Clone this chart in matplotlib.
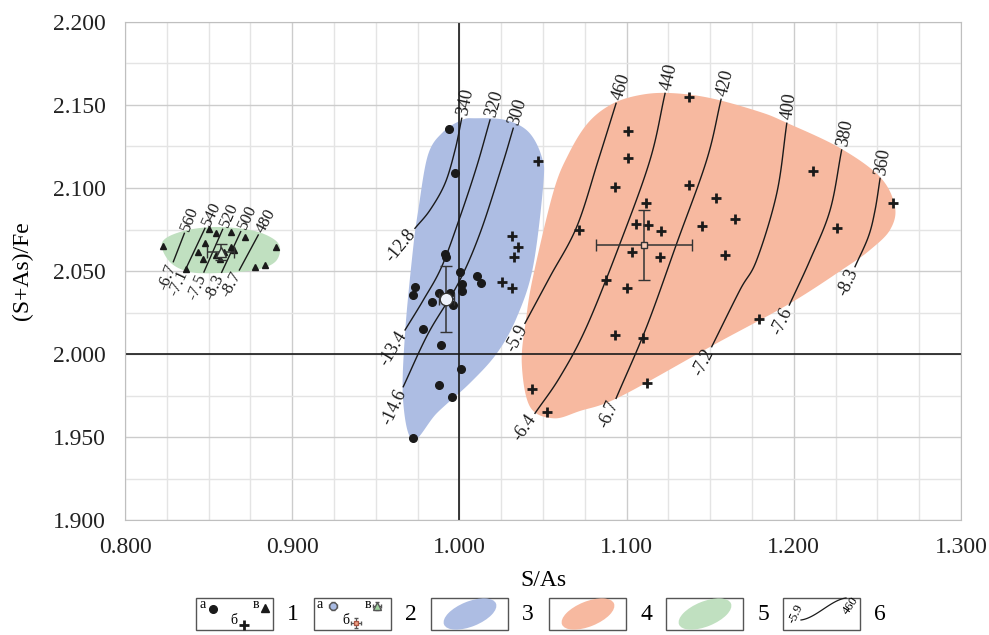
import matplotlib.pyplot as plt
import numpy as np
from matplotlib.patches import Rectangle, Ellipse
from matplotlib.ticker import MultipleLocator, FormatStrFormatter

plt.rcParams["font.family"] = ["Liberation Serif", "DejaVu Serif"]

# Контуры полей составов
blue_x = [1.0093, 1.0273, 1.0412, 1.0492, 1.0502, 1.0440, 1.0344, 1.0225,
          1.0063, 0.9866, 0.9722, 0.9663, 0.9675, 0.9722, 0.9754, 0.9812,
          0.9902, 1.0016]
blue_y = [2.1420, 2.1410, 2.1339, 2.1189, 2.1028, 2.0524, 2.0223, 2.0006,
          1.9825, 1.9645, 1.9482, 1.9723, 2.0127, 2.0627, 2.0867, 2.1199,
          2.1337, 2.1410]

orange_x = [1.1080, 1.1260, 1.1499, 1.1798, 1.1959, 1.2276, 1.2516, 1.2605,
            1.2575, 1.2456, 1.2316, 1.1977, 1.1519, 1.0961, 1.0721, 1.0562,
            1.0422, 1.0373, 1.0398, 1.0440, 1.0560, 1.0650, 1.0769, 1.0913]
orange_y = [2.1560, 2.1572, 2.1542, 2.1458, 2.1392, 2.1241, 2.1066, 2.0887,
            2.0747, 2.0627, 2.0526, 2.0305, 2.0054, 1.9743, 1.9657, 1.9613,
            1.9683, 1.9944, 2.0205, 2.0464, 2.0970, 2.1199, 2.1392, 2.1506]

green_x = [0.8221, 0.8329, 0.8526, 0.8748, 0.8879, 0.8927, 0.8897, 0.8778,
           0.8568, 0.8389, 0.8269]
green_y = [2.0669, 2.0735, 2.0765, 2.0747, 2.0699, 2.0639, 2.0554, 2.0506,
           2.0488, 2.0494, 2.0554]

# а - кружки
circ_x = [0.9940, 0.9974, 0.9916, 0.9920, 1.0004, 1.0014, 1.0018, 1.0103,
          1.0127, 0.9734, 0.9724, 0.9878, 0.9944, 0.9838, 0.9964, 0.9780,
          0.9890, 1.0008, 0.9880, 0.9958, 0.9721]
circ_y = [2.1354, 2.1092, 2.0602, 2.0586, 2.0496, 2.0422, 2.0381, 2.0470,
          2.0426, 2.0402, 2.0354, 2.0369, 2.0369, 2.0311, 2.0295, 2.0149,
          2.0054, 1.9908, 1.9813, 1.9739, 1.9492]

# б - кресты
plus_x = [1.0468, 1.0316, 1.0348, 1.0328, 1.0253, 1.0316,
          1.1375, 1.1010, 1.1010, 1.0931, 1.1375, 1.1534, 1.1650, 1.1452,
          1.1114, 1.1054, 1.1126, 1.1204, 1.0715, 1.1032, 1.1200, 1.1590,
          1.0875, 1.1000, 1.0931, 1.1100, 1.1120, 1.0432, 1.0526, 1.1793,
          1.2113, 1.2256, 1.2591]
plus_y = [2.1163, 2.0711, 2.0646, 2.0584, 2.0436, 2.0399,
          2.1546, 2.1345, 2.1183, 2.1004, 2.1018, 2.0942, 2.0813, 2.0773,
          2.0908, 2.0783, 2.0779, 2.0741, 2.0747, 2.0613, 2.0586, 2.0596,
          2.0446, 2.0396, 2.0114, 2.0094, 1.9827, 1.9787, 1.9653, 2.0209,
          2.1104, 2.0761, 2.0908]

# в - треугольники
tri_x = [0.8229, 0.8504, 0.8542, 0.8634, 0.8718, 0.8478, 0.8632, 0.8653,
         0.8438, 0.8542, 0.8594, 0.8465, 0.8568, 0.8365, 0.8778, 0.8837, 0.8903]
tri_y = [2.0651, 2.0751, 2.0731, 2.0733, 2.0703, 2.0667, 2.0646, 2.0627,
         2.0616, 2.0596, 2.0616, 2.0571, 2.0571, 2.0510, 2.0522, 2.0536, 2.0646]

# средние значения и отклонения
mean_circ = (0.9920, 2.0331, 0.0045, 0.0197)
mean_plus = (1.1104, 2.0657, 0.0288, 0.0209)
mean_tri = (0.8572, 2.0616, 0.0080, 0.0047)

# изолинии: температура (вверху) и значение (внизу)
iso_x = [
    [1.0014, 0.9974, 0.9914, 0.9824, 0.9734],
    [1.0183, 1.0103, 1.0004, 0.9894, 0.9784, 0.9675],
    [1.0322, 1.0253, 1.0123, 0.9993, 0.9814, 0.9664],
    [1.0937, 1.0831, 1.0702, 1.0542, 1.0392],
    [1.1230, 1.1140, 1.0961, 1.0761, 1.0602, 1.0452],
    [1.1565, 1.1479, 1.1300, 1.1120, 1.0937],
    [1.1958, 1.1898, 1.1778, 1.1678, 1.1509],
    [1.2286, 1.2217, 1.2097, 1.1973],
    [1.2516, 1.2486, 1.2446, 1.2366],
    [0.8355, 0.8289],
    [0.8478, 0.8365],
    [0.8584, 0.8472],
    [0.8692, 0.8578],
    [0.8797, 0.8684],
]
iso_y = [
    [2.1420, 2.1229, 2.1028, 2.0867, 2.0757],
    [2.1410, 2.1128, 2.0827, 2.0526, 2.0325, 2.0145],
    [2.1360, 2.1128, 2.0727, 2.0426, 2.0125, 1.9803],
    [2.1510, 2.1169, 2.0767, 2.0466, 2.0185],
    [2.1570, 2.1169, 2.0667, 2.0165, 1.9863, 1.9643],
    [2.1534, 2.1169, 2.0667, 2.0165, 1.9733],
    [2.1390, 2.0968, 2.0566, 2.0386, 2.0044],
    [2.1229, 2.0867, 2.0566, 2.0295],
    [2.1058, 2.0867, 2.0707, 2.0526],
    [2.0727, 2.0556],
    [2.0757, 2.0516],
    [2.0751, 2.0494],
    [2.0737, 2.0492],
    [2.0717, 2.0506],
]
iso_top = ["340", "320", "300", "460", "440", "420", "400", "380", "360",
           "560", "540", "520", "500", "480"]
iso_bottom = ["-12.8", "-13.4", "-14.6", "-5.9", "-6.4", "-6.7", "-7.2", "-7.6", "-8.3",
              "-6.7", "-7.1", "-7.5", "-8.3", "-8.7"]

c_blue = "#adbde3"
c_orange = "#f7b9a0"
c_green = "#c0e0c0"


def smooth(xs, ys, closed=False, n=24):
    # сплайн Катмулла-Рома через узлы
    p = np.column_stack([xs, ys]).astype(float)
    if len(p) < 3:
        return p[:, 0], p[:, 1]
    if closed:
        p = np.vstack([p[-1], p, p[0], p[1]])
    else:
        p = np.vstack([2 * p[0] - p[1], p, 2 * p[-1] - p[-2]])
    t = np.linspace(0, 1, n, endpoint=False)[:, None]
    out = []
    for i in range(1, len(p) - 2):
        p0, p1, p2, p3 = p[i - 1], p[i], p[i + 1], p[i + 2]
        out.append(0.5 * (2 * p1 + (-p0 + p2) * t
                          + (2 * p0 - 5 * p1 + 4 * p2 - p3) * t ** 2
                          + (-p0 + 3 * p1 - 3 * p2 + p3) * t ** 3))
    if not closed:
        out.append(p[-2][None])
    out = np.vstack(out)
    return out[:, 0], out[:, 1]


fig = plt.figure(figsize=(9.89, 6.35), dpi=100)
ax = fig.add_axes([0.1264, 0.181, 0.8453, 0.7844])
ax.set_xlim(0.8, 1.3)
ax.set_ylim(1.9, 2.2)

ax.xaxis.set_major_locator(MultipleLocator(0.1))
ax.yaxis.set_major_locator(MultipleLocator(0.05))
ax.xaxis.set_minor_locator(MultipleLocator(0.025))
ax.yaxis.set_minor_locator(MultipleLocator(0.025))
ax.xaxis.set_major_formatter(FormatStrFormatter("%.3f"))
ax.yaxis.set_major_formatter(FormatStrFormatter("%.3f"))
ax.set_axisbelow(True)
ax.grid(which="major", color="#cccccc", lw=1)
ax.grid(which="minor", color="#e4e4e4", lw=1)
ax.tick_params(which="both", length=0, labelsize=17, colors="#222222")
ax.tick_params(axis="y", pad=14)
ax.tick_params(axis="x", pad=12)
for s in ax.spines.values():
    s.set_color("#bfbfbf")

ax.set_xlabel("S/As", fontsize=17, labelpad=9)
ax.set_ylabel("(S+As)/Fe", fontsize=17, labelpad=14)

# поля
for xs, ys, c in [(blue_x, blue_y, c_blue), (orange_x, orange_y, c_orange),
                  (green_x, green_y, c_green)]:
    sx, sy = smooth(xs, ys, closed=True)
    ax.fill(sx, sy, color=c, lw=0, zorder=1)

ax.axvline(1.0, color="#1a1a1a", lw=1.2, zorder=2)
ax.axhline(2.0, color="#1a1a1a", lw=1.2, zorder=2)

# изолинии с подписями
for xs, ys, top, bot in zip(iso_x, iso_y, iso_top, iso_bottom):
    sx, sy = smooth(xs, ys)
    ax.plot(sx, sy, color="#1a1a1a", lw=1, zorder=2.5)
    pts = ax.transData.transform(np.column_stack([xs, ys]))
    fs = 12 if float(top) >= 480 else 13
    for end, nxt, txt, ha, sign in [(0, 1, top, "left", 1), (-1, -2, bot, "right", -1)]:
        d = pts[end] - pts[nxt] if sign > 0 else pts[nxt] - pts[end]
        d = d / np.hypot(*d)
        ang = np.degrees(np.arctan2(d[1], d[0]))
        ax.annotate(txt, (xs[end], ys[end]), xytext=(sign * 2.5 * d[0], sign * 2.5 * d[1]),
                    textcoords="offset points", rotation=ang, rotation_mode="anchor",
                    ha=ha, va="center", fontsize=fs, color="#1a1a1a", zorder=3)

ax.plot(circ_x, circ_y, "o", color="#1a1a1a", ms=5.5, zorder=4)
ax.plot(plus_x, plus_y, "+", color="#1a1a1a", ms=6.5, mew=2, zorder=4)
ax.plot(tri_x, tri_y, "^", color="#1a1a1a", ms=5, zorder=4)

for (mx, my, ex, ey), mk, fc, ms in [(mean_circ, "o", "#eef2fb", 9),
                                     (mean_plus, "s", "#f9cdb9", 5),
                                     (mean_tri, "^", "#d6ecd6", 7)]:
    ax.errorbar(mx, my, xerr=ex, yerr=ey, fmt=mk, ms=ms, mfc=fc, mec="#333333",
                mew=1, ecolor="#333333", elinewidth=1.1, capsize=4, capthick=1.1,
                zorder=5)

# условные обозначения
lg = fig.add_axes([0, 0, 1, 1], zorder=-1)
lg.set_xlim(0, 989)
lg.set_ylim(635, 0)
lg.axis("off")
box_left = [196, 314, 431, 549, 666, 783]
for i, x0 in enumerate(box_left):
    lg.add_patch(Rectangle((x0, 598), 77, 32, fill=False, ec="#555555", lw=1))
    lg.text(x0 + 97, 615, str(i + 1), fontsize=17, ha="center", va="center")

lg.text(203, 605, "а", fontsize=10, ha="center", va="center")
lg.plot(213, 609, "o", color="#1a1a1a", ms=5.5)
lg.text(256, 605, "в", fontsize=10, ha="center", va="center")
lg.plot(265, 608, "^", color="#1a1a1a", ms=6)
lg.text(234, 621, "б", fontsize=10, ha="center", va="center")
lg.plot(244, 625, "+", color="#1a1a1a", ms=6.5, mew=2)

lg.text(320, 604, "а", fontsize=10, ha="center", va="center")
lg.errorbar(333, 606, xerr=4, yerr=4, fmt="o", ms=5.5, mfc="#a9bbe3", mec="#555555",
            ecolor="#555555", elinewidth=0.8, capsize=1.5)
lg.text(368, 604, "в", fontsize=10, ha="center", va="center")
lg.errorbar(377, 606, xerr=4, yerr=4, fmt="^", ms=5.5, mfc="#9fd39f", mec="#555555",
            ecolor="#555555", elinewidth=0.8, capsize=1.5)
lg.text(346, 621, "б", fontsize=10, ha="center", va="center")
lg.errorbar(356, 623, xerr=5, yerr=5, fmt="s", ms=3.5, mfc="#f4a587", mec="#aa5544",
            ecolor="#555555", elinewidth=0.8, capsize=1.5)

for x0, c in zip(box_left[2:5], [c_blue, c_orange, c_green]):
    lg.add_patch(Ellipse((x0 + 39, 614), 56, 25, angle=-22, color=c, lw=0))

cx = np.linspace(0, 1, 50)
lg.plot(801 + 45 * cx, 620 - 16 * (3 * cx ** 2 - 2 * cx ** 3) - 6 * cx, color="#1a1a1a", lw=0.9)
lg.text(796, 614, "-5.9", fontsize=9, rotation=65, ha="center", va="center")
lg.text(851, 606, "460", fontsize=9, rotation=55, ha="center", va="center")

fig.savefig("out.png", dpi=100)
